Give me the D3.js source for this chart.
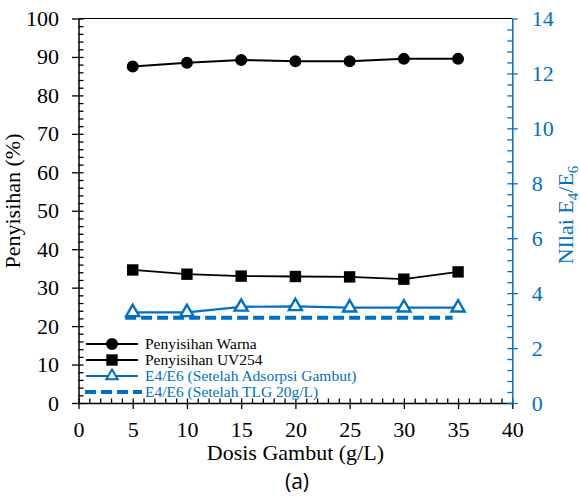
<!DOCTYPE html>
<html><head><meta charset="utf-8">
<script src="https://cdn.jsdelivr.net/npm/d3@7"></script>
<style>body{margin:0;background:#fff}svg{display:block}</style>
</head><body>
<svg id="c" width="580" height="499"></svg>
<script>
const dosis = [5, 10, 15, 20, 25, 30, 35];
const warna = [87.5, 88.5, 89.2, 88.9, 88.9, 89.5, 89.5];
const uv254 = [34.6, 33.5, 33.0, 32.9, 32.8, 32.2, 34.1];
const e4e6Adsorpsi = [3.30, 3.30, 3.50, 3.52, 3.47, 3.47, 3.47];
const tlgX = [4.3, 34.5];
const tlgVal = [3.1, 3.1];
const xTicks = [0, 5, 10, 15, 20, 25, 30, 35, 40];
const yLTicks = [0, 10, 20, 30, 40, 50, 60, 70, 80, 90, 100];
const yRTicks = [0, 2, 4, 6, 8, 10, 12, 14];
const legendLabels = ["Penyisihan Warna", "Penyisihan UV254", "E4/E6 (Setelah Adsorpsi Gambut)", "E4/E6 (Setelah TLG 20g/L)"];

const BLUE = "#0070C0";
const SERIF = "'Liberation Serif','Times New Roman',serif";
const svg = d3.select("#c");
const x = d3.scaleLinear([0, 40], [78.5, 512.3]);
const yL = d3.scaleLinear([0, 100], [403, 18.5]);
const yR = d3.scaleLinear([0, 14], [403, 18.5]);

// top border
svg.append("line").attr("x1", x(0)).attr("x2", x(40)).attr("y1", yL(100)).attr("y2", yL(100))
  .attr("stroke", "#000").attr("stroke-width", 1.2);

function styleAxis(g, color) {
  g.attr("font-family", SERIF);
  g.selectAll("path").attr("stroke", color).attr("stroke-width", 1.5);
  g.selectAll("line").attr("stroke", color).attr("stroke-width", 1.3);
  g.selectAll("text").attr("fill", color).style("font-family", SERIF).style("font-size", "22px");
}

// X axis
const gx = svg.append("g").attr("transform", `translate(0,${yL(0)})`)
  .call(d3.axisBottom(x).tickValues(xTicks).tickSize(6).tickSizeOuter(0).tickPadding(12.4));
styleAxis(gx, "#000");
const gxi = svg.append("g").attr("transform", `translate(0,${yL(0)})`)
  .call(d3.axisTop(x).tickValues(d3.range(0, 41, 1)).tickSize(4.5).tickFormat(""));
gxi.select(".domain").remove(); styleAxis(gxi, "#000");

// Left axis
const gl = svg.append("g").attr("transform", `translate(${x(0)},0)`)
  .call(d3.axisLeft(yL).tickValues(yLTicks).tickSize(6.5).tickSizeOuter(0).tickPadding(13));
styleAxis(gl, "#000");
const gli = svg.append("g").attr("transform", `translate(${x(0)},0)`)
  .call(d3.axisRight(yL).tickValues(d3.range(0, 101, 2)).tickSize(5).tickFormat(""));
gli.select(".domain").remove(); styleAxis(gli, "#000");

// Right axis
const gr = svg.append("g").attr("transform", `translate(${x(40)},0)`)
  .call(d3.axisRight(yR).tickValues(yRTicks).tickSize(5.5).tickSizeOuter(0).tickPadding(14));
styleAxis(gr, BLUE);
const gri = svg.append("g").attr("transform", `translate(${x(40)},0)`)
  .call(d3.axisLeft(yR).tickValues(d3.range(0, 70, 2).map(v => v / 5)).tickSize(5).tickFormat(""));
gri.select(".domain").remove(); styleAxis(gri, BLUE);

// Axis titles
svg.append("text").attr("transform", `translate(20,201) rotate(-90)`).attr("text-anchor", "middle")
  .style("font-family", SERIF).style("font-size", "22px").text("Penyisihan (%)");
svg.append("text").attr("x", (x(0) + x(40)) / 2).attr("y", 460).attr("text-anchor", "middle")
  .style("font-family", SERIF).style("font-size", "22px").text("Dosis Gambut (g/L)");
const rt = svg.append("text").attr("transform", `translate(573,215) rotate(-90)`).attr("text-anchor", "middle")
  .attr("fill", BLUE).style("font-family", SERIF).style("font-size", "22px");
rt.append("tspan").text("NIlai E");
rt.append("tspan").attr("dy", 5).style("font-size", "15px").text("4");
rt.append("tspan").attr("dy", -5).text("/E");
rt.append("tspan").attr("dy", 5).style("font-size", "15px").text("6");
svg.append("text").attr("x", 297).attr("y", 489).attr("text-anchor", "middle")
  .style("font-family", "'Open Sans','Liberation Sans',sans-serif").style("font-size", "21px").text("(a)");

// Series
const lineL = d3.line().x((d, i) => x(dosis[i])).y(d => yL(d));
const lineR = d3.line().x((d, i) => x(dosis[i])).y(d => yR(d));
const circ = d3.symbol(d3.symbolCircle, 113);
const sq = d3.symbol(d3.symbolSquare, 130);
const tri = d3.symbol(d3.symbolTriangle, 75);

// TLG dashed
svg.append("path").datum(tlgVal)
  .attr("d", d3.line().x((d, i) => x(tlgX[i])).y(d => yR(d)))
  .attr("fill", "none").attr("stroke", BLUE).attr("stroke-width", 4).attr("stroke-dasharray", "11,5");

svg.append("path").datum(e4e6Adsorpsi).attr("d", lineR).attr("fill", "none").attr("stroke", BLUE).attr("stroke-width", 2.2);
svg.selectAll(".tri").data(e4e6Adsorpsi).join("path")
  .attr("transform", (d, i) => `translate(${x(dosis[i])},${yR(d)})`).attr("d", tri)
  .attr("fill", "#fff").attr("stroke", BLUE).attr("stroke-width", 2.4);

svg.append("path").datum(uv254).attr("d", lineL).attr("fill", "none").attr("stroke", "#000").attr("stroke-width", 1.8);
svg.selectAll(".sq").data(uv254).join("path")
  .attr("transform", (d, i) => `translate(${x(dosis[i])},${yL(d)})`).attr("d", sq).attr("fill", "#000");

svg.append("path").datum(warna).attr("d", lineL).attr("fill", "none").attr("stroke", "#000").attr("stroke-width", 2);
svg.selectAll(".ci").data(warna).join("path")
  .attr("transform", (d, i) => `translate(${x(dosis[i])},${yL(d)})`).attr("d", circ).attr("fill", "#000");

// Legend
const legY = [344, 360, 376, 392];
const legColor = ["#000", "#000", BLUE, BLUE];
legendLabels.forEach((lab, i) => {
  const g = svg.append("g");
  if (i === 3) {
    g.append("line").attr("x1", 85).attr("x2", 142).attr("y1", legY[i]).attr("y2", legY[i])
      .attr("stroke", BLUE).attr("stroke-width", 4).attr("stroke-dasharray", "11,5");
  } else {
    g.append("line").attr("x1", 86).attr("x2", 138).attr("y1", legY[i]).attr("y2", legY[i])
      .attr("stroke", legColor[i]).attr("stroke-width", i === 2 ? 2 : 1.8);
    const sym = [circ, sq, d3.symbol(d3.symbolTriangle, 55)][i];
    g.append("path").attr("transform", `translate(112,${legY[i]})`).attr("d", sym)
      .attr("fill", i === 2 ? "#fff" : "#000").attr("stroke", i === 2 ? BLUE : "none").attr("stroke-width", 2);
  }
  g.append("text").attr("x", 145).attr("y", legY[i]).attr("dy", "0.35em").attr("fill", legColor[i])
    .style("font-family", SERIF).style("font-size", "15.5px").text(lab);
});
</script>
</body></html>
